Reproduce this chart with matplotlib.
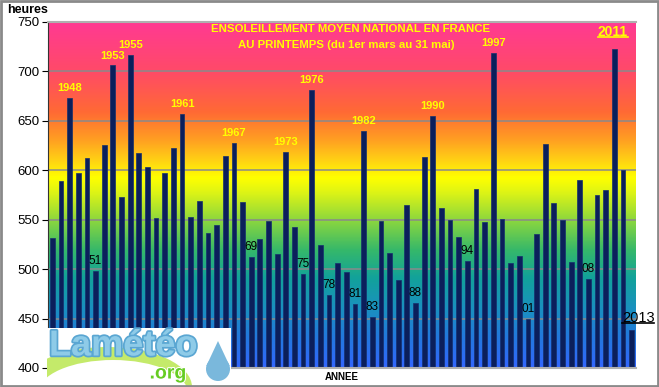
import numpy as np
import matplotlib
matplotlib.use("Agg")
import matplotlib.pyplot as plt
from matplotlib.colors import LinearSegmentedColormap
from matplotlib.patches import Rectangle, Polygon, Circle, Ellipse
from matplotlib.lines import Line2D
import matplotlib.patheffects as pe

plt.rcParams["font.family"] = ["Liberation Sans", "DejaVu Sans"]

# ----------------------------------------------------------------------
# data: spring sunshine hours (1 March - 31 May), France
# ----------------------------------------------------------------------
years = list(range(1946, 2014))
hours = [531, 589, 673, 597, 612, 498, 626, 706, 573, 717,
         617, 603, 552, 597, 623, 657, 553, 569, 537, 545,
         614, 628, 568, 512, 530, 549, 515, 619, 543, 495,
         681, 524, 474, 506, 497, 465, 640, 452, 549, 516,
         489, 565, 466, 613, 655, 562, 550, 533, 508, 581,
         548, 719, 551, 506, 513, 450, 536, 627, 567, 550,
         507, 590, 490, 575, 580, 723, 600, 438]

sunny_years = [1948, 1953, 1955, 1961, 1967, 1973, 1976, 1982, 1990, 1997]
dull_years = [1951, 1969, 1975, 1978, 1981, 1983, 1988, 1994, 2001, 2008]
dull_labels = ["51", "69", "75", "78", "81", "83", "88", "94", "01", "08"]

yticks = [400, 450, 500, 550, 600, 650, 700, 750]

# ----------------------------------------------------------------------
fig = plt.figure(figsize=(6.59, 3.87), dpi=100)
fig.patch.set_facecolor("white")
ax = fig.add_axes([48 / 659, 1 - 368 / 387, 588 / 659, 346 / 387])

x = np.arange(len(years))
ax.set_xlim(-0.5, len(years) - 0.5)
ax.set_ylim(400, 750)

# background gradient (blue at bottom -> pink at top)
stops = [(0.00, "#3366ff"), (0.09, "#2279dc"), (0.17, "#1a90c0"),
         (0.26, "#12a29a"), (0.34, "#35b86a"), (0.43, "#8fd83c"),
         (0.51, "#e0f514"), (0.55, "#ffff00"), (0.60, "#ffd214"),
         (0.66, "#ff9f22"), (0.74, "#ff6a34"), (0.86, "#ff4a68"),
         (1.00, "#ff3a92")]
cmap = LinearSegmentedColormap.from_list("sun", stops)
grad = np.linspace(0, 1, 256).reshape(-1, 1)
ax.imshow(grad, cmap=cmap, origin="lower", aspect="auto",
          extent=[-0.5, len(years) - 0.5, 400, 750], zorder=0)

for yv in yticks[1:-1]:
    ax.axhline(yv, color="#8a8a8a", lw=1.1, zorder=1)

ax.bar(x, hours, width=0.55, bottom=0, color="#0b1f5b",
       edgecolor="#16306e", linewidth=0.5, zorder=2)

# axes styling
ax.set_yticks(yticks)
ax.set_yticklabels([str(v) for v in yticks], fontsize=9.5)
ax.set_xticks([])
ax.tick_params(axis="y", direction="out", length=4, width=0.8, pad=2)
ax.spines["left"].set_color("#333333")
ax.spines["right"].set_visible(False)
ax.spines["top"].set_color("#b0b0b0")
ax.spines["top"].set_linewidth(1.5)
ax.spines["bottom"].set_color("#b0b0b0")
ax.spines["bottom"].set_linewidth(1.5)

fig.text(7 / 659, 1 - 10 / 387, "heures", fontsize=9, weight="bold",
         ha="left", va="center")
ax.text(len(years) / 2 - 0.5, 391, "ANNEE", fontsize=7, weight="bold",
        ha="center", va="center")

# title inside plot
ax.text(34.5, 743, "ENSOLEILLEMENT MOYEN NATIONAL EN FRANCE", color="#ffff00",
        fontsize=8.2, weight="bold", ha="center", va="center")
ax.text(34.0, 727, "AU PRINTEMPS (du 1er mars au 31 mai)", color="#ffff00",
        fontsize=8.2, weight="bold", ha="center", va="center")

# year labels
for yr in sunny_years:
    i = years.index(yr)
    ax.text(i, hours[i] + 5, str(yr), color="#ffff00", fontsize=8,
            weight="bold", ha="center", va="bottom", zorder=3)
for yr, lab in zip(dull_years, dull_labels):
    i = years.index(yr)
    ax.text(i, hours[i] + 4, lab, color="black", fontsize=8.5,
            ha="center", va="bottom", zorder=3)

# underlined labels for 2011 and 2013
i = years.index(2011)
t2011 = ax.text(i - 0.2, hours[i] + 10, "2011", color="#ffff00",
                fontsize=10, weight="bold", ha="center", va="bottom", zorder=3)
i = years.index(2013)
t2013 = ax.text(i + 0.75, hours[i] + 6, "2013", color="black",
                fontsize=10.5, ha="center", va="bottom", zorder=3, clip_on=False)

# logo box (bottom left)
lax = fig.add_axes([47 / 659, 0, 184 / 659, 59 / 387])
lax.set_xlim(0, 184)
lax.set_ylim(0, 59)
lax.axis("off")
lax.add_patch(Rectangle((0, 0), 184, 59, facecolor="white", edgecolor="none"))
lax.add_patch(Ellipse((60, 0), 170, 80, facecolor="#c4ea6a", edgecolor="none"))
lax.add_patch(Ellipse((66, -6), 150, 66, facecolor="white", edgecolor="none"))
lax.text(2, 41, "Lamétéo", fontsize=26, weight="bold", color="#8ecbe8",
         ha="left", va="center",
         path_effects=[pe.withStroke(linewidth=2.5, foreground="#5aa6d2")])
lax.text(121, 13, ".org", fontsize=14, weight="bold", color="#66cc22",
         ha="center", va="center",
         path_effects=[pe.withStroke(linewidth=1.5, foreground="white")])
lax.add_patch(Circle((171, 18), 12, facecolor="#7ab8dc", edgecolor="none"))
lax.add_patch(Polygon([(159.3, 21), (182.7, 21), (171, 46)],
                      facecolor="#7ab8dc", edgecolor="none"))

# outer frame
fig.add_artist(Rectangle((0.001, 0.002), 0.997, 0.995, transform=fig.transFigure,
                         fill=False, edgecolor="#8a8a8a", linewidth=2))

# draw the underlines once text extents are known
fig.canvas.draw()
inv = fig.transFigure.inverted()
for t, col in [(t2011, "#ffff00"), (t2013, "black")]:
    bb = t.get_window_extent()
    (x0, y0), (x1, _) = inv.transform([(bb.x0, bb.y0 + 2), (bb.x1, bb.y0)])
    fig.add_artist(Line2D([x0, x1], [y0, y0], color=col, lw=1.2,
                          transform=fig.transFigure, zorder=5))

fig.savefig("out.png", dpi=100)
